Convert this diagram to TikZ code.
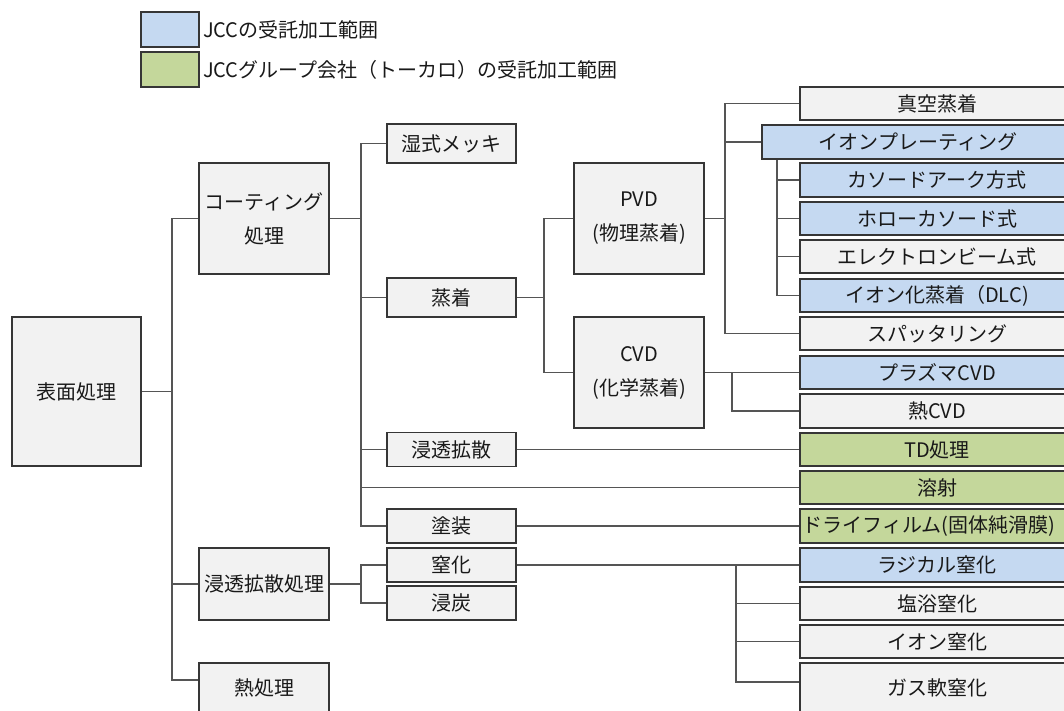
\documentclass[tikz,border=0pt]{standalone}
\usepackage{fontspec}
\usepackage{tikz}
\usetikzlibrary{positioning}
\newfontfamily\jpfont{Noto Sans CJK JP}
\definecolor{boxgray}{HTML}{F2F2F2}
\definecolor{jccblue}{HTML}{C5D9F1}
\definecolor{grpgreen}{HTML}{C4D79B}
\definecolor{boxline}{HTML}{363636}
\definecolor{wiregray}{HTML}{555555}

\begin{document}
\begin{tikzpicture}[
			x = 1pt, y = -1pt,
			every node/.style = {font = \jpfont\fontsize{20}{34}\selectfont, text = black!90},
			box/.style = {draw = boxline, line width = 1.7pt, fill = boxgray, inner sep = 0pt, align = center},
			big/.style = {box, minimum width = 130pt, minimum height = 111pt},
			mid/.style = {box, minimum width = 129pt, minimum height = 34pt},
			leaf/.style = {box, minimum width = 274pt, minimum height = 33.5pt},
			jcc/.style = {fill = jccblue},
			grp/.style = {fill = grpgreen},
			wire/.style = {draw = wiregray, line width = 1.9pt}]

			\useasboundingbox (0,0) rectangle (1064,711);
			\clip (0,0) rectangle (1064,711);

			% legend
			\node[box, jcc, minimum width = 58pt, minimum height = 35pt] (keyjcc) at (170,29.5) {};
			\node[right = 3pt of keyjcc, inner sep = 0pt] (keyjcctxt) {JCCの受託加工範囲};
			\node[box, grp, minimum width = 58pt, minimum height = 35pt] (keygrp) at (170,69.5) {};
			\node[right = 3pt of keygrp, inner sep = 0pt] (keygrptxt) {JCCグループ会社（トーカロ）の受託加工範囲};

			% left columns
			\node[box, minimum width = 129pt, minimum height = 149pt] (surf) at (76.5,391.5) {表面処理};
			\node[big] (coat) at (264,218.5) {コーティング\\処理};
			\node[box, minimum width = 130pt, minimum height = 72pt] (diffp) at (264,584) {浸透拡散処理};
			\node[box, minimum width = 130pt, minimum height = 50pt] (heat) at (264,688) {熱処理};

			\node[mid, minimum height = 39pt] (wet) at (451.5,143.5) {湿式メッキ};
			\node[mid, minimum height = 39pt] (vap) at (451.5,297.5) {蒸着};
			\node[mid] (pen) at (451.5,449.5) {浸透拡散};
			\node[mid] (paint) at (451.5,526) {塗装};
			\node[mid] (nitr) at (451.5,565) {窒化};
			\node[mid] (carb) at (451.5,603) {浸炭};

			\node[big] (pvd) at (639,218.5) {PVD\\(物理蒸着)};
			\node[big] (cvd) at (639,372.5) {CVD\\(化学蒸着)};

			% right column
			\node[leaf] (vac) at (937,103.5) {真空蒸着};
			\node[leaf, jcc, minimum width = 312pt] (ionp) at (918,142) {イオンプレーティング};
			\node[leaf, jcc] (cath) at (937,180) {カソードアーク方式};
			\node[leaf, jcc] (holl) at (937,218.5) {ホローカソード式};
			\node[leaf] (ebeam) at (937,256.5) {エレクトロンビーム式};
			\node[leaf, jcc] (ionv) at (937,295.5) {イオン化蒸着（DLC)};
			\node[leaf] (sput) at (937,333.5) {スパッタリング};
			\node[leaf, jcc] (pcvd) at (937,372.5) {プラズマCVD};
			\node[leaf] (tcvd) at (937,411) {熱CVD};
			\node[leaf, grp] (td) at (937,449.5) {TD処理};
			\node[leaf, grp] (spray) at (937,487.5) {溶射};
			\node[leaf, grp] (dry) at (937,526) {ドライフィルム(固体純滑膜)\hspace*{16pt}};
			\node[leaf, jcc] (rad) at (937,565) {ラジカル窒化};
			\node[leaf] (salt) at (937,603.5) {塩浴窒化};
			\node[leaf] (ionn) at (937,641.5) {イオン窒化};
			\node[leaf, minimum height = 50pt] (gas) at (937,688) {ガス軟窒化};

			% connectors
			\coordinate (bsurf) at (172,391.5);
			\draw[wire] (surf.east) -- (bsurf);
			\draw[wire] (coat.west) -| (bsurf);
			\draw[wire] (diffp.west) -| (bsurf);
			\draw[wire] ([yshift=8pt]heat.west) -| (bsurf);

			\coordinate (bcoat) at (361,218.5);
			\draw[wire] (coat.east) -- (bcoat);
			\draw[wire] (wet.west) -| (bcoat);
			\draw[wire] (vap.west) -| (bcoat);
			\draw[wire] (pen.west) -| (bcoat);
			\draw[wire] (spray.west) -| (bcoat);
			\draw[wire] (paint.west) -| (bcoat);

			\coordinate (bdiff) at (361,584);
			\draw[wire] (diffp.east) -- (bdiff);
			\draw[wire] (nitr.west) -| (bdiff);
			\draw[wire] (carb.west) -| (bdiff);

			\coordinate (bvap) at (544,297.5);
			\draw[wire] (vap.east) -- (bvap);
			\draw[wire] (pvd.west) -| (bvap);
			\draw[wire] (cvd.west) -| (bvap);

			\coordinate (bpvd) at (725,218.5);
			\draw[wire] (pvd.east) -- (bpvd);
			\draw[wire] (vac.west) -| (bpvd);
			\draw[wire] (ionp.west) -| (bpvd);
			\draw[wire] (sput.west) -| (bpvd);

			\coordinate (bion) at ([xshift=16pt]ionp.south west);
			\draw[wire] (cath.west) -| (bion);
			\draw[wire] (holl.west) -| (bion);
			\draw[wire] (ebeam.west) -| (bion);
			\draw[wire] (ionv.west) -| (bion);

			\coordinate (bcvd) at (732,372.5);
			\draw[wire] (cvd.east) -- (pcvd.west);
			\draw[wire] (tcvd.west) -| (bcvd);

			\draw[wire] (pen.east) -- (td.west);
			\draw[wire] (paint.east) -- (dry.west);
			\draw[wire] (nitr.east) -- (rad.west);

			\coordinate (bnitr) at (736,565);
			\draw[wire] (salt.west) -| (bnitr);
			\draw[wire] (ionn.west) -| (bnitr);
			\draw[wire] ([yshift=6pt]gas.west) -| (bnitr);

		\end{tikzpicture}
\end{document}
